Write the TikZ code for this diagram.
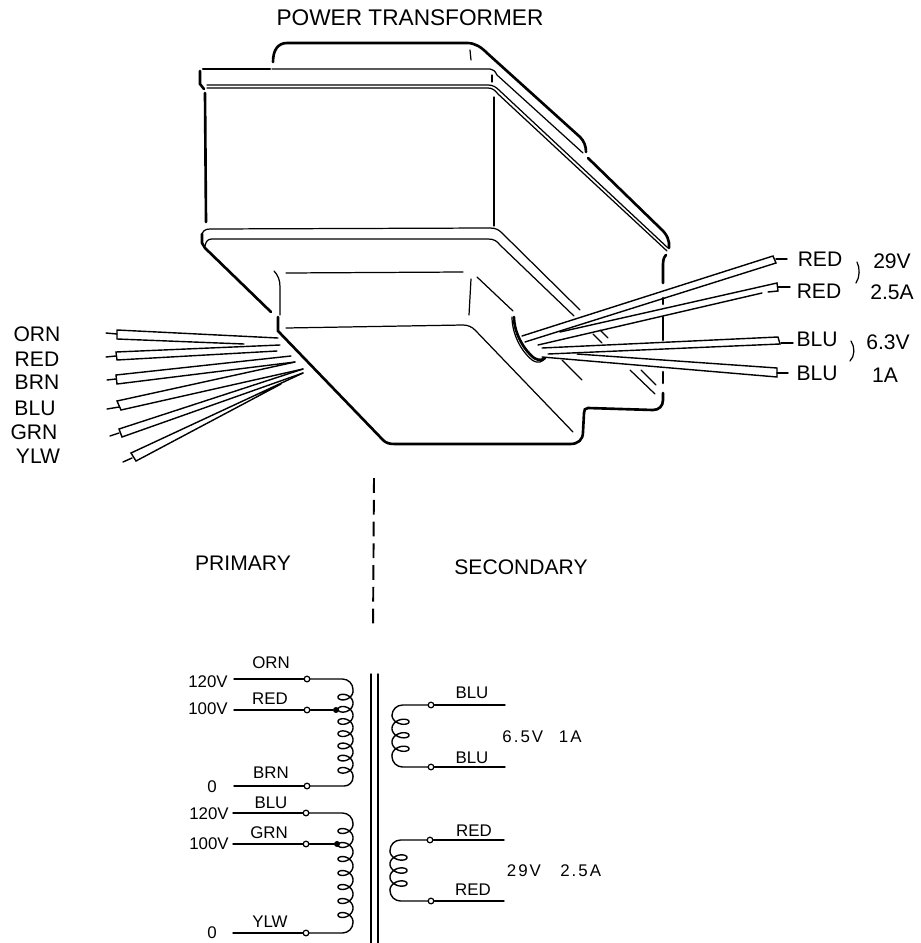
\documentclass[tikz,border=0pt]{standalone}
\usepackage{fontspec}
\setmainfont{Liberation Sans}
\newfontfamily\widefont[LetterSpace=12]{Liberation Sans}
\usetikzlibrary{positioning}
\newcommand{\leadwire}[6]{
  \draw [wire] #1 -- #2;
  \draw [wire] #5 -- #3 -- #4 -- #6;
}
\newcommand{\coil}[5]{
  \draw [wire] plot [domain=0:360*#4,samples=48*#4,smooth,variable=\t]
    ({#1+#5*(1-cos(\t))},{#2+#3*(\t/360)+5.5*sin(\t)});
}
\begin{document}
\begin{tikzpicture}[x=0.02cm,y=-0.02cm,
    thin line/.style={line width=0.7pt,line cap=round},
    bold line/.style={line width=1.5pt,line cap=round},
    wire/.style={line width=0.8pt,line cap=round},
    titlelabel/.style={font=\fontsize{12.9}{15}\selectfont,inner sep=0pt},
    biglabel/.style={font=\fontsize{12}{14}\selectfont,inner sep=0pt},
    smalllabel/.style={font=\fontsize{9.6}{12}\selectfont,inner sep=0pt},
    valuelabel/.style={font=\widefont\fontsize{9.6}{12}\selectfont,inner sep=0pt},
    terminal/.style={circle,draw,fill=white,line width=0.7pt,inner sep=0pt,minimum size=3.2pt},
    tap/.style={circle,fill=black,inner sep=0pt,minimum size=3.4pt}]
  \useasboundingbox (0,0) rectangle (920,943);

  \node (title) [titlelabel] at (410,18) {POWER TRANSFORMER};

  % upper case
  \draw [bold line] (273,62) .. controls (273,50) and (278,43) .. (287,43) -- (467,43)
    .. controls (475,43) and (481,47) .. (487,53) -- (580,137) .. controls (584,141) and (586,146) .. (586,152);
  \draw [thin line] (272,69) -- (490,69) .. controls (493,69) and (495,71) .. (497,75) -- (583,153);
  \draw [bold line] (203,69) -- (270,69);
  \draw [bold line] (200,71) -- (200,84) -- (204,89);
  \draw [thin line] (207,85) -- (488,85) .. controls (493,85) and (496,87) .. (500,91) -- (668,248);
  \draw [thin line] (207,88) -- (488,88) .. controls (492,88) and (495,90) .. (498,94) -- (667,251);
  \draw [bold line] (588,158) -- (660,228) .. controls (667,234) and (670,241) .. (669,248);
  \draw [thin line] (470,50) -- (471,60);
  \draw [thin line] (492,75) -- (492,82);
  \draw [bold line] (205,93) -- (206,222);
  \draw [thin line] (494,97) -- (494,226);

  % lower flange
  \draw [thin line] (202,236) .. controls (202,231) and (205,229) .. (210,229) -- (490,228)
    .. controls (496,228) and (499,230) .. (502,233) -- (580,310);
  \draw [thin line] (205,246) .. controls (206,241) and (208,239) .. (212,239) -- (488,239)
    .. controls (494,239) and (497,241) .. (500,245) -- (574,316);
  \draw [bold line] (202,234) -- (202,243) -- (205,248) -- (271,312);
  \draw [thin line] (593,334) -- (602,343);
  \draw [thin line] (600,330) -- (608,338);
  \draw [thin line] (630,370) -- (655,394);
  \draw [thin line] (641,370) -- (656,385);

  % right edge, broken
  \draw [bold line] (666,255) .. controls (663,258) and (663,262) .. (663,267) -- (663,283);
  \draw [bold line] (663,298) -- (663,304);
  \draw [bold line] (663,317) -- (663,340);
  \draw [bold line] (663,372) -- (663,383);
  \draw [bold line] (663,393) -- (663,400) .. controls (663,406) and (659,410) .. (653,410) -- (588,408)
    .. controls (585,408) and (584,410) .. (584,413) -- (583,432)
    .. controls (583,440) and (578,444) .. (570,444) -- (395,444)
    .. controls (389,444) and (386,443) .. (383,440) -- (278,331) -- (278,317);

  % base
  \draw [thin line] (274,271) .. controls (278,275) and (280,280) .. (280,287) -- (280,315);
  \draw [thin line] (286,273) -- (463,272);
  \draw [thin line] (286,328) -- (463,325) .. controls (468,325) and (472,327) .. (475,330) -- (573,432);
  \draw [thin line] (471,279) -- (469,315);
  \draw [thin line] (477,277) -- (513,311);
  \draw [thin line] (562,360) -- (582,380);

  % grommet
  \draw [thin line] (512,317) .. controls (512,335) and (522,352) .. (532,360) .. controls (538,364) and (543,362) .. (545,358);
  \draw [bold line] (514,317) .. controls (514,333) and (524,350) .. (534,358) .. controls (539,361) and (543,360) .. (545,358);

  % primary leads
  \leadwire{(106,333)}{(117,334)}{(117,330)}{(117,339)}{(278,338)}{(244,344)}
  \leadwire{(106,357)}{(116,356)}{(116,352)}{(117,360)}{(280,345)}{(277,351)}
  \leadwire{(107,380)}{(116,379)}{(116,375)}{(117,384)}{(291,356)}{(295,362)}
  \leadwire{(107,409)}{(119,407)}{(117,401)}{(121,410)}{(295,362)}{(303,369)}
  \leadwire{(110,436)}{(119,433)}{(119,429)}{(122,437)}{(303,369)}{(303,373)}
  \leadwire{(123,462)}{(132,458)}{(131,453)}{(136,461)}{(303,373)}{(281,384)}

  % secondary leads
  \leadwire{(787,259)}{(776,259)}{(773,256)}{(776,263)}{(522,336)}{(525,342)}
  \draw [wire] (790,287) -- (778,287);
  \draw [wire] (560,332) -- (777,283) -- (778,291) -- (768,292);
  \draw [wire] (538,345) -- (762,293);
  \leadwire{(793,343)}{(781,343)}{(778,337)}{(780,344)}{(542,348)}{(548,354)}
  \leadwire{(788,373)}{(777,373)}{(777,368)}{(777,377)}{(577,354)}{(542,357)}

  \node (lorn) [biglabel] at (37,334) {ORN};
  \node (lred) [biglabel] at (37,359) {RED};
  \node (lbrn) [biglabel] at (37,382) {BRN};
  \node (lblu) [biglabel] at (35,408) {BLU};
  \node (lgrn) [biglabel] at (34,432) {GRN};
  \node (lylw) [biglabel] at (38,456) {YLW};

  \node (rred) [biglabel] at (820,259) {RED};
  \node (rredb) [biglabel] at (819,291) {RED};
  \node (rblu) [biglabel] at (817,339) {BLU};
  \node (rblub) [biglabel] at (817,373) {BLU};
  \node (rv) [biglabel] at (892,261) {29V};
  \node (ra) [biglabel] at (892,292) {2.5A};
  \node (rvb) [biglabel] at (888,342) {6.3V};
  \node (rab) [biglabel] at (885,375) {1A};
  \draw [thin line] (857,262) .. controls (860,268) and (860,277) .. (856,283);
  \draw [thin line] (851,341) .. controls (855,347) and (855,356) .. (850,361);

  % divider
  \coordinate (divtop) at (374,478);
  \coordinate (divbot) at (373,630);
  \draw [line width=1.1pt,dash pattern=on 8.4pt off 4pt] (divtop) -- (divbot);
  \node (primary) [biglabel] at (243,563) {PRIMARY};
  \node (secondary) [biglabel] at (521,567) {SECONDARY};

  % core
  \coordinate (corea) at (371,674);
  \coordinate (coreb) at (378,674);
  \coordinate (corec) at (371,943);
  \coordinate (cored) at (378,943);
  \draw [wire] (corea) -- (corec);
  \draw [wire] (coreb) -- (cored);

  % first primary winding
  \coordinate (wa) at (234,679);
  \coordinate (wb) at (234,710);
  \coordinate (wc) at (234,786);
  \node (ta) [terminal] at (307,679) {};
  \node (tb) [terminal] at (307,710) {};
  \node (tc) [terminal] at (307,786) {};
  \node (da) [tap] at (336,710) {};
  \coordinate (ca) at (353,691);
  \coordinate (cb) at (353,776.4);
  \coil{353}{691}{12.2}{7}{-7.5}
  \draw [wire] (wa) -- (ta);
  \draw [wire] (wb) -- (tb);
  \draw [wire] (wc) -- (tc);
  \draw [wire] (tb) -- (da);
  \draw [wire,rounded corners=6pt] (ta) -- (ta -| ca) -- (ca);
  \draw [wire,rounded corners=5pt] (tc) -- (tc -| cb) -- (cb);
  \node (porn) [smalllabel] at (271,663) {ORN};
  \node (pred) [smalllabel] at (270,699) {RED};
  \node (pbrn) [smalllabel] at (271,773) {BRN};
  \node (va) [smalllabel] at (208,682) {120V};
  \node (vb) [smalllabel] at (208,709) {100V};
  \node (vc) [smalllabel] at (212,787) {0};

  % second primary winding
  \coordinate (wd) at (233,813);
  \coordinate (we) at (233,844);
  \coordinate (wf) at (233,933);
  \node (td) [terminal] at (306,813) {};
  \node (te) [terminal] at (306,844) {};
  \node (tf) [terminal] at (306,933) {};
  \node (db) [tap] at (337,844) {};
  \coordinate (cc) at (353,824);
  \coordinate (cd) at (353,922);
  \coil{353}{824}{14}{7}{-7.5}
  \draw [wire] (wd) -- (td);
  \draw [wire] (we) -- (te);
  \draw [wire] (wf) -- (tf);
  \draw [wire] (te) -- (db);
  \draw [wire,rounded corners=6pt] (td) -- (td -| cc) -- (cc);
  \draw [wire,rounded corners=6pt] (tf) -- (tf -| cd) -- (cd);
  \node (pblu) [smalllabel] at (271,803) {BLU};
  \node (pgrn) [smalllabel] at (269,833) {GRN};
  \node (pylw) [smalllabel] at (270,922) {YLW};
  \node (vd) [smalllabel] at (209,814) {120V};
  \node (ve) [smalllabel] at (209,844) {100V};
  \node (vf) [smalllabel] at (212,933) {0};

  % 6.5V winding
  \coordinate (wg) at (505,705);
  \coordinate (wh) at (505,767);
  \node (tg) [terminal] at (431,705) {};
  \node (th) [terminal] at (431,767) {};
  \coordinate (ce) at (392,715);
  \coordinate (cf) at (392,755.5);
  \coil{392}{715}{13.5}{3}{8.5}
  \draw [wire] (tg) -- (wg);
  \draw [wire] (th) -- (wh);
  \draw [wire,rounded corners=6pt] (tg) -- (tg -| ce) -- (ce);
  \draw [wire,rounded corners=6pt] (th) -- (th -| cf) -- (cf);
  \node (sblu) [smalllabel] at (472,693) {BLU};
  \node (sblub) [smalllabel] at (472,758) {BLU};
  \node (sva) [valuelabel] at (542,737) {6.5V\hspace{9pt}1A};

  % 29V winding
  \coordinate (wi) at (504,840);
  \coordinate (wj) at (504,901);
  \node (ti) [terminal] at (430,840) {};
  \node (tj) [terminal] at (431,901) {};
  \coordinate (cg) at (390,851);
  \coordinate (ch) at (390,890);
  \coil{390}{851}{13}{3}{8.5}
  \draw [wire] (ti) -- (wi);
  \draw [wire] (tj) -- (wj);
  \draw [wire,rounded corners=6pt] (ti) -- (ti -| cg) -- (cg);
  \draw [wire,rounded corners=6pt] (tj) -- (tj -| ch) -- (ch);
  \node (sred) [smalllabel] at (474,831) {RED};
  \node (sredb) [smalllabel] at (473,890) {RED};
  \node (svb) [valuelabel] at (554,871) {29V\hspace{11pt}2.5A};
\end{tikzpicture}
\end{document}
